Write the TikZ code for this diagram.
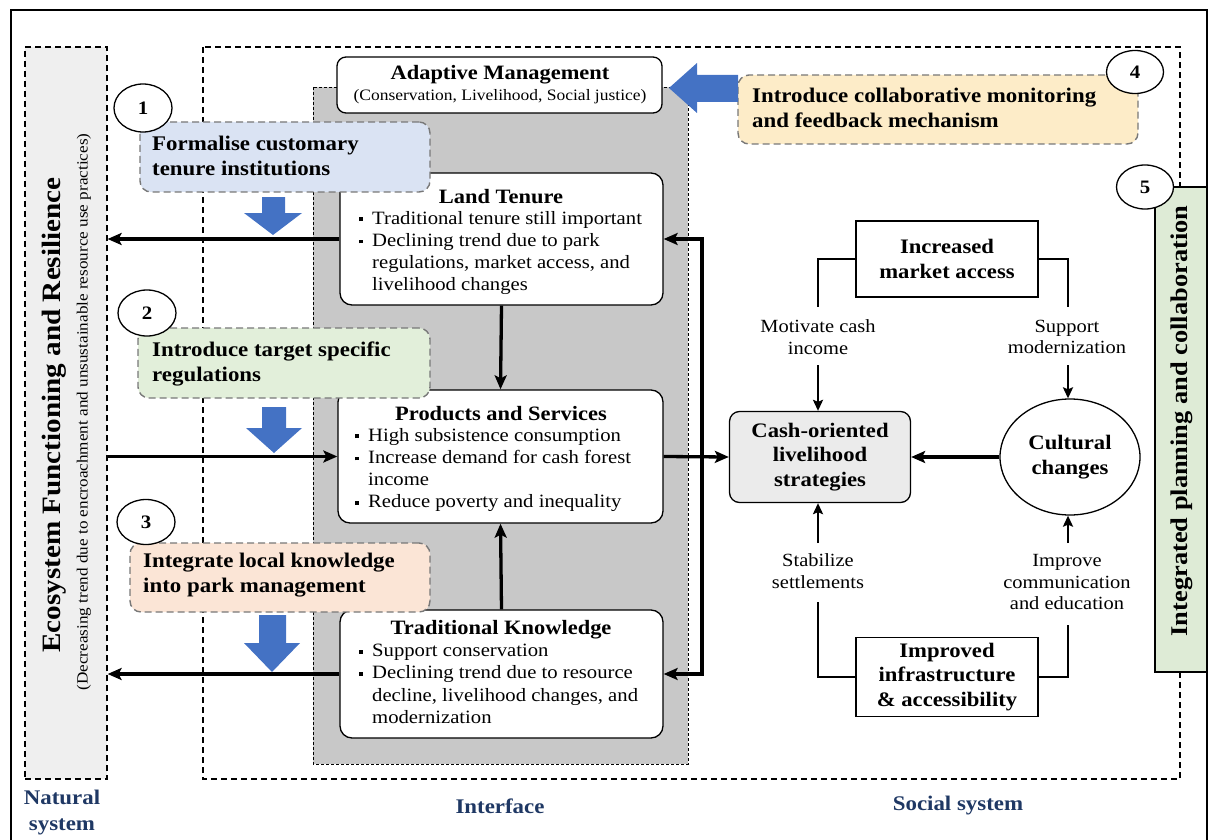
\documentclass[tikz,border=0pt]{standalone}
\usepackage{fontspec}
\setmainfont[FakeStretch=1.1]{Liberation Serif}
\usetikzlibrary{arrows.meta,shapes.geometric}

\definecolor{arrowblue}{RGB}{68,114,196}
\definecolor{navy}{RGB}{31,56,100}
\definecolor{ifacegray}{RGB}{200,200,200}
\definecolor{natfill}{RGB}{239,239,239}
\definecolor{fillone}{RGB}{218,227,243}
\definecolor{filltwo}{RGB}{226,239,218}
\definecolor{fillthree}{RGB}{251,229,214}
\definecolor{fillfour}{RGB}{253,236,200}
\definecolor{fillfive}{RGB}{222,235,214}
\definecolor{cashfill}{RGB}{235,235,235}
\definecolor{dashgray}{RGB}{120,120,120}

% square bullet and matching hanging indent
\newcommand{\sqb}{\makebox[13pt][l]{\rule[3pt]{3.8pt}{3.8pt}}}
\newcommand{\hng}{\hspace*{13pt}}

\begin{document}
\begin{tikzpicture}[x=1pt,y=-1pt,
  sysbox/.style={draw=black,line width=1.2pt,dash pattern=on 6pt off 4pt},
  whitebox/.style={draw=black,line width=1.3pt,fill=white,rounded corners=12pt,inner sep=0pt},
  plainbox/.style={draw=black,line width=1.3pt,fill=white,inner sep=0pt},
  actbox/.style={draw=dashgray,line width=1.4pt,dash pattern=on 7pt off 4pt,rounded corners=11pt,inner sep=0pt},
  numcirc/.style={ellipse,draw=black,line width=1.3pt,fill=white,inner sep=0pt,
    font=\fontsize{19}{20}\selectfont\bfseries},
  boxtitle/.style={font=\fontsize{20.4}{22}\selectfont\bfseries,inner sep=0pt},
  bullets/.style={font=\fontsize{18.8}{22.2}\selectfont,align=left,inner sep=0pt,anchor=north west},
  acttext/.style={font=\fontsize{20.8}{25.5}\selectfont\bfseries,align=left,inner sep=0pt,anchor=west},
  sidetext/.style={font=\fontsize{18.6}{21.5}\selectfont,align=center,inner sep=0pt},
  socbox/.style={font=\fontsize{20.6}{24.5}\selectfont\bfseries,align=center},
  syslabel/.style={font=\fontsize{20.8}{26}\selectfont\bfseries,text=navy,align=center,inner sep=0pt},
  arr/.style={line width=3.3pt,-{Stealth[length=14pt,width=12pt,inset=3pt]}},
  barr/.style={line width=3.3pt,{Stealth[length=14pt,width=12pt,inset=3pt]}-{Stealth[length=14pt,width=12pt,inset=3pt]}},
  conn/.style={line width=2.4pt},
  carr/.style={line width=2.4pt,-{Stealth[length=11pt,width=10pt,inset=2pt]}}
]
\useasboundingbox (0,0) rectangle (1208,840);

% outer frame
\draw[line width=1.5pt] (11,845) -- (11,10) -- (1207,10) -- (1207,845);

% system areas
\node[sysbox,fill=natfill,minimum width=82pt,minimum height=732pt,inner sep=0pt] (nat) at (66,413) {};
\draw[sysbox] (203,47) rectangle (1180,779);
\draw[line width=0.8pt,dash pattern=on 3pt off 2pt,fill=ifacegray] (313,87) rectangle (688,764);

\node[rotate=90,font=\fontsize{26.5}{28}\selectfont\bfseries,inner sep=0pt] (nattitle) at (54,415)
  {Ecosystem Functioning and Resilience};
\node[rotate=90,font=\fontsize{15.6}{17}\selectfont,inner sep=0pt] (natsub) at (84,412)
  {(Decreasing trend due to encroachment and unsustainable resource use practices)};

% interface boxes
\node[whitebox,rounded corners=9pt,minimum width=325pt,minimum height=56pt] (adapt) at (499.5,85) {};
\node[boxtitle] (adaptt) at (500,75) {Adaptive Management};
\node[font=\fontsize{15.9}{17}\selectfont,inner sep=0pt] (adapts) at (500,97)
  {(Conservation, Livelihood, Social justice)};

\node[whitebox,minimum width=323pt,minimum height=132pt] (lt) at (501.5,239) {};
\node[boxtitle] (ltt) at (501,197) {Land Tenure};
\node[bullets] (ltb) at (359,211)
  {\sqb Traditional tenure still important\\
   \sqb Declining trend due to park\\
   \hng regulations, market access, and\\
   \hng livelihood changes};

\node[whitebox,minimum width=325pt,minimum height=133pt] (ps) at (500.5,456.5) {};
\node[boxtitle] (pst) at (501,414) {Products and Services};
\node[bullets] (psb) at (355,428)
  {\sqb High subsistence consumption\\
   \sqb Increase demand for cash forest\\
   \hng income\\
   \sqb Reduce poverty and inequality};

\node[whitebox,minimum width=323pt,minimum height=128pt] (tk) at (501.5,674) {};
\node[boxtitle] (tkt) at (501,630) {Traditional Knowledge};
\node[bullets] (tkb) at (359,644)
  {\sqb Support conservation\\
   \sqb Declining trend due to resource\\
   \hng decline, livelihood changes, and\\
   \hng modernization};

% links between the interface and the natural system
\draw[arr] (lt.west) -- (lt.west -| nat.east);
\draw[arr] (nat.east |- ps.west) -- (ps.west);
\draw[arr] (tk.west) -- (tk.west -| nat.east);
\draw[arr] (lt.south) -- (ps.north);
\draw[arr] (tk.north) -- (ps.south);
\coordinate (fb) at (702,458);
\draw[barr] (lt.east) -- (lt.east -| fb) |- (tk.east);

% intervention boxes
\node[actbox,fill=fillone,minimum width=290pt,minimum height=70pt] (act1) at (285,157) {};
\node[acttext] (act1t) at (152,156) {Formalise customary\\tenure institutions};
\node[actbox,fill=filltwo,minimum width=292pt,minimum height=70pt] (act2) at (284,363) {};
\node[acttext] (act2t) at (152,364) {Introduce target specific\\regulations};
\node[actbox,fill=fillthree,minimum width=300pt,minimum height=69pt] (act3) at (280,577.5) {};
\node[acttext] (act3t) at (143,575) {Integrate local knowledge\\into park management};
\node[actbox,fill=fillfour,minimum width=400pt,minimum height=69pt] (act4) at (938,109.5) {};
\node[acttext] (act4t) at (752,108) {Introduce collaborative monitoring\\and feedback mechanism};
\node[draw=black,line width=1.3pt,fill=fillfive,minimum width=52pt,minimum height=485pt,inner sep=0pt] (act5) at (1181,429.5) {};
\node[rotate=90,font=\fontsize{24}{26}\selectfont\bfseries,inner sep=0pt] (act5t) at (1182,421)
  {Integrated planning and collaboration};

% block arrows
\fill[arrowblue] (262,197) -- (285,197) -- (285,213) -- (302,213) -- (273,235) -- (244,213) -- (262,213) -- cycle;
\fill[arrowblue] (262,407) -- (286,407) -- (286,428) -- (302,428) -- (274,453) -- (246,428) -- (262,428) -- cycle;
\fill[arrowblue] (259,615) -- (286,615) -- (286,643) -- (300,643) -- (272,672) -- (244,643) -- (259,643) -- cycle;
\fill[arrowblue] (738,75) -- (738,102) -- (697,102) -- (697,113) -- (669,88) -- (697,63) -- (697,75) -- cycle;

% numbered markers
\node[numcirc,minimum width=58pt,minimum height=48pt] (n1) at (143,108) {1};
\node[numcirc,minimum width=58pt,minimum height=46pt] (n2) at (147,313) {2};
\node[numcirc,minimum width=58pt,minimum height=45pt] (n3) at (146,522) {3};
\node[numcirc,minimum width=57pt,minimum height=43pt] (n4) at (1135,72) {4};
\node[numcirc,minimum width=57pt,minimum height=44pt] (n5) at (1145,187) {5};

% social system
\node[plainbox,socbox,minimum width=182pt,minimum height=76pt] (market) at (947,259)
  {Increased\\market access};
\node[plainbox,socbox,fill=cashfill,rounded corners=10pt,minimum width=181pt,minimum height=91pt] (cash) at (820,457)
  {Cash-oriented\\livelihood\\strategies};
\node[ellipse,draw=black,line width=1.3pt,fill=white,inner sep=0pt,minimum width=140pt,minimum height=116pt,
  font=\fontsize{20.6}{25}\selectfont\bfseries,align=center] (cult) at (1070,457) {Cultural\\changes};
\node[plainbox,socbox,minimum width=182pt,minimum height=79pt] (impr) at (947,677)
  {Improved\\infrastructure\\\& accessibility};

\node[sidetext] (l1) at (818,337) {Motivate cash\\income};
\node[sidetext] (l2) at (1067,337) {Support\\modernization};
\node[sidetext] (l3) at (818,571) {Stabilize\\settlements};
\node[sidetext] (l4) at (1067,582) {Improve\\communication\\and education};

\coordinate (c1) at (818,307);
\coordinate (c2) at (1068,307);
\coordinate (c3) at (818,602);
\coordinate (c4) at (1068,625);
\coordinate (s1) at (818,365);
\coordinate (s2) at (1068,365);
\coordinate (s3) at (818,543);
\coordinate (s4) at (1068,543);

\draw[conn] (market.west) -| (c1);
\draw[conn] (market.east) -| (c2);
\draw[conn] (c3) |- (impr.west);
\draw[conn] (impr.east) -| (c4);
\draw[carr] (s1) -- (s1 |- cash.north);
\draw[carr] (s2) -- (s2 |- cult.north);
\draw[carr] (s3) -- (s3 |- cash.south);
\draw[carr] (s4) -- (s4 |- cult.south);
\draw[arr] (ps.east) -- (cash.west);
\draw[arr] (cult.west) -- (cash.east);

% system labels
\node[syslabel] (natlabel) at (62,813) {Natural\\system};
\node[syslabel] (ifacelabel) at (500,806) {Interface};
\node[syslabel] (soclabel) at (958,806) {Social system};
\end{tikzpicture}
\end{document}
